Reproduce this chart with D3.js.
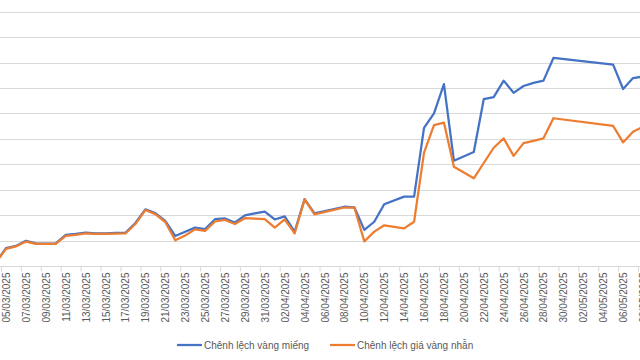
<!DOCTYPE html>
<html><head><meta charset="utf-8">
<script src="https://cdn.jsdelivr.net/npm/d3@7"></script>
<style>
html,body{margin:0;padding:0;background:#fff;}
svg{display:block;font-family:"Liberation Sans",Arial,sans-serif;}
</style></head>
<body><svg id="c" width="640" height="360"></svg>
<script>
const dates = ["04/03/2025","05/03/2025","06/03/2025","07/03/2025","08/03/2025","09/03/2025","10/03/2025","11/03/2025","12/03/2025","13/03/2025","14/03/2025","15/03/2025","16/03/2025","17/03/2025","18/03/2025","19/03/2025","20/03/2025","21/03/2025","22/03/2025","23/03/2025","24/03/2025","25/03/2025","26/03/2025","27/03/2025","28/03/2025","29/03/2025","30/03/2025","31/03/2025","01/04/2025","02/04/2025","03/04/2025","04/04/2025","05/04/2025","08/04/2025","09/04/2025","10/04/2025","11/04/2025","12/04/2025","14/04/2025","15/04/2025","16/04/2025","17/04/2025","18/04/2025","19/04/2025","21/04/2025","22/04/2025","23/04/2025","24/04/2025","25/04/2025","26/04/2025","27/04/2025","28/04/2025","29/04/2025","05/05/2025","06/05/2025","07/05/2025","08/05/2025"];
const barGoldSpread = [0.16,0.70,0.79,0.99,0.89,0.88,0.89,1.22,1.26,1.31,1.28,1.28,1.30,1.31,1.69,2.23,2.08,1.77,1.18,1.35,1.51,1.45,1.84,1.87,1.71,1.99,2.07,2.14,1.83,1.95,1.35,2.63,2.07,2.33,2.31,1.42,1.74,2.43,2.73,2.73,5.43,6.00,7.15,4.14,4.48,6.56,6.64,7.29,6.81,7.08,7.20,7.29,8.18,7.92,6.96,7.39,7.45];
const ringGoldSpread = [0.16,0.67,0.77,0.96,0.87,0.87,0.87,1.18,1.22,1.28,1.26,1.26,1.27,1.28,1.65,2.20,2.04,1.73,1.01,1.20,1.44,1.38,1.75,1.81,1.65,1.88,1.86,1.84,1.51,1.83,1.28,2.62,2.03,2.30,2.30,0.97,1.35,1.60,1.48,1.74,4.46,5.54,5.64,3.90,3.45,4.05,4.65,5.02,4.33,4.83,4.92,5.02,5.81,5.51,4.86,5.28,5.47];
const seriesNames = ["Chênh lệch vàng miếng","Chênh lệch giá vàng nhẫn"];
const tickLabels = ["05/03/2025","07/03/2025","09/03/2025","11/03/2025","13/03/2025","15/03/2025","17/03/2025","19/03/2025","21/03/2025","23/03/2025","25/03/2025","27/03/2025","29/03/2025","31/03/2025","02/04/2025","04/04/2025","06/04/2025","08/04/2025","10/04/2025","12/04/2025","14/04/2025","16/04/2025","18/04/2025","20/04/2025","22/04/2025","24/04/2025","26/04/2025","28/04/2025","30/04/2025","02/05/2025","04/05/2025","06/05/2025","08/05/2025"];
const yTicks = [0,1,2,3,4,5,6,7,8,9,10];
const colors = ["#4472C4","#ED7D31"];

const parse = d3.utcParse("%d/%m/%Y");
const svg = d3.select("#c");
const x = d3.scaleUtc().domain([parse(tickLabels[0]), parse(tickLabels[tickLabels.length-1])]).range([6, 643]);
const y = d3.scaleLinear().domain([0, 10]).range([266, 11.7]);
const HALF = 12*3600*1000;

// gridlines
svg.append("g").selectAll("line").data(yTicks.slice(1)).join("line")
  .attr("x1",0).attr("x2",640)
  .attr("y1",d=>Math.round(y(d))+0.5).attr("y2",d=>Math.round(y(d))+0.5)
  .attr("stroke","#D9D9D9").attr("stroke-width",1);

// axis with tick marks between days
const axisY = Math.round(y(0))+0.5;
const gMarks = svg.append("g").attr("transform",`translate(0,${axisY})`)
  .call(d3.axisBottom(x).tickValues(tickLabels.map(t=>new Date(parse(t).getTime()-HALF))).tickSize(5).tickSizeOuter(0).tickFormat(""));
gMarks.select(".domain").attr("stroke","#D9D9D9").attr("d","M0,0H640");
gMarks.selectAll(".tick line").attr("stroke","#D9D9D9");

const gLab = svg.append("g").attr("transform",`translate(0,${axisY})`)
  .call(d3.axisBottom(x).tickValues(tickLabels.map(parse)).tickSize(0).tickFormat(d3.utcFormat("%d/%m/%Y")));
gLab.select(".domain").remove();
gLab.selectAll("text").attr("transform","rotate(-90)").attr("text-anchor","end")
  .attr("x",-6).attr("y",0).attr("dy","0.35em")
  .attr("fill","#595959").style("font-size","10px").style("font-family","'Liberation Sans',Arial,sans-serif");

// lines
const series = [barGoldSpread, ringGoldSpread];
const line = d3.line().x(d=>x(d[0])).y(d=>y(d[1]));
svg.append("clipPath").attr("id","pc").append("rect").attr("x",0).attr("y",0).attr("width",640).attr("height",268);
series.forEach((vals,i)=>{
  const pts = dates.map((d,j)=>[parse(d), vals[j]]);
  svg.append("path").datum(pts).attr("d",line).attr("fill","none")
    .attr("stroke",colors[i]).attr("stroke-width",2.25)
    .attr("stroke-linejoin","round").attr("stroke-linecap","round")
    .attr("clip-path","url(#pc)");
});

// legend
const legX = [177, 330];
seriesNames.forEach((n,i)=>{
  const g = svg.append("g").attr("transform",`translate(${legX[i]},345)`);
  g.append("line").attr("x1",0).attr("x2",25).attr("y1",0).attr("y2",0)
    .attr("stroke",colors[i]).attr("stroke-width",2.25);
  g.append("text").attr("x",27).attr("y",0).attr("dy","0.35em")
    .attr("fill","#595959").style("font-size","10px").text(n);
});
</script></body></html>
